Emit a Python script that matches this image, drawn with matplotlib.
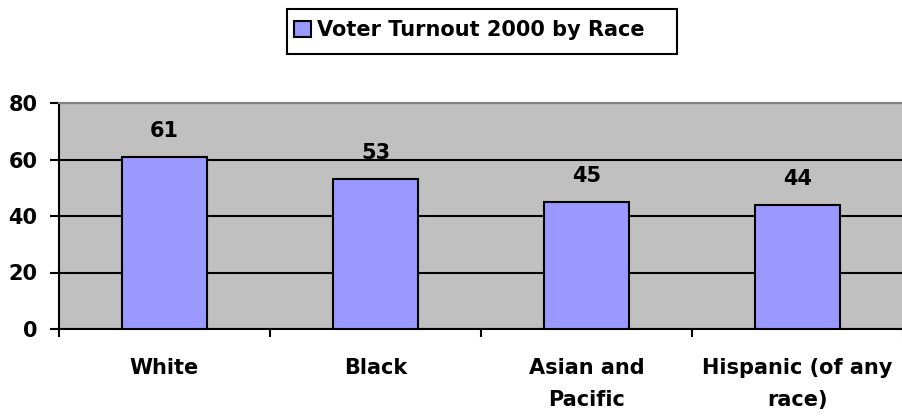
import matplotlib
matplotlib.use("Agg")
import matplotlib.pyplot as plt
from matplotlib.patches import Patch, Rectangle
import numpy as np

categories = ["White", "Black", "Asian and\nPacific", "Hispanic (of any\nrace)"]
values = [61, 53, 45, 44]
series_name = "Voter Turnout 2000 by Race"
yticks = [0, 20, 40, 60, 80]

plt.rcParams['font.family'] = ['DejaVu Sans']
plt.rcParams['font.weight'] = 'bold'
FS = 15

W, H = 902, 420
fig = plt.figure(figsize=(W/100, H/100), dpi=100)
left, right, top, bottom = 59, 903, 103, 329
ax = fig.add_axes([left/W, 1 - bottom/H, (right-left)/W, (bottom-top)/H])
ax.set_facecolor('#C0C0C0')

x = np.arange(len(categories))
ax.bar(x, values, width=0.4, color='#9999FF', edgecolor='black', linewidth=1.5, zorder=3)
for xi, v in zip(x, values):
    ax.annotate(str(v), (xi, v), xytext=(0, 14.5), textcoords='offset points',
                ha='center', va='baseline', fontsize=FS, fontweight='bold')

ax.set_xlim(-0.5, len(categories) - 0.5)
ax.set_ylim(0, 80)
ax.set_yticks(yticks)
ax.set_yticklabels([str(t) for t in yticks], fontsize=FS, fontweight='bold')
ax.yaxis.grid(True, color='black', linewidth=1.5, zorder=1)
ax.set_axisbelow(True)

ax.set_xticks(np.arange(len(categories) + 1) - 0.5)
ax.set_xticklabels([])
ax.set_xticks(x, minor=True)
ax.set_xticklabels(categories, minor=True, fontsize=FS, fontweight='bold', linespacing=1.75)
ax.tick_params(axis='x', which='minor', length=0, pad=21)
ax.tick_params(axis='x', which='major', length=6, width=1.5, color='black')
ax.tick_params(axis='y', length=6.5, width=1.5, color='black', pad=9)

ax.spines['right'].set_visible(False)
ax.spines['top'].set_color('#808080')
ax.spines['top'].set_linewidth(1.5)
ax.spines['left'].set_linewidth(1.5)
ax.spines['bottom'].set_linewidth(1.5)

# legend frame (Excel-style box)
bx0, by0, bx1, by1 = 287, 9, 677, 54
frame = Rectangle((bx0/W, 1 - by1/H), (bx1-bx0)/W, (by1-by0)/H, transform=fig.transFigure,
                  facecolor='white', edgecolor='black', linewidth=1.5)
fig.patches.append(frame)
handle = Patch(facecolor='#9999FF', edgecolor='black', linewidth=1.5)
leg = fig.legend([handle], [series_name], loc='center left', bbox_to_anchor=(294/W, 1 - 30.5/H),
                 frameon=False, prop={'size': FS, 'weight': 'bold'},
                 handlelength=0.8, handleheight=0.8, handletextpad=0.3, borderpad=0.0,
                 borderaxespad=0.0)

fig.savefig("out.png", dpi=100)
